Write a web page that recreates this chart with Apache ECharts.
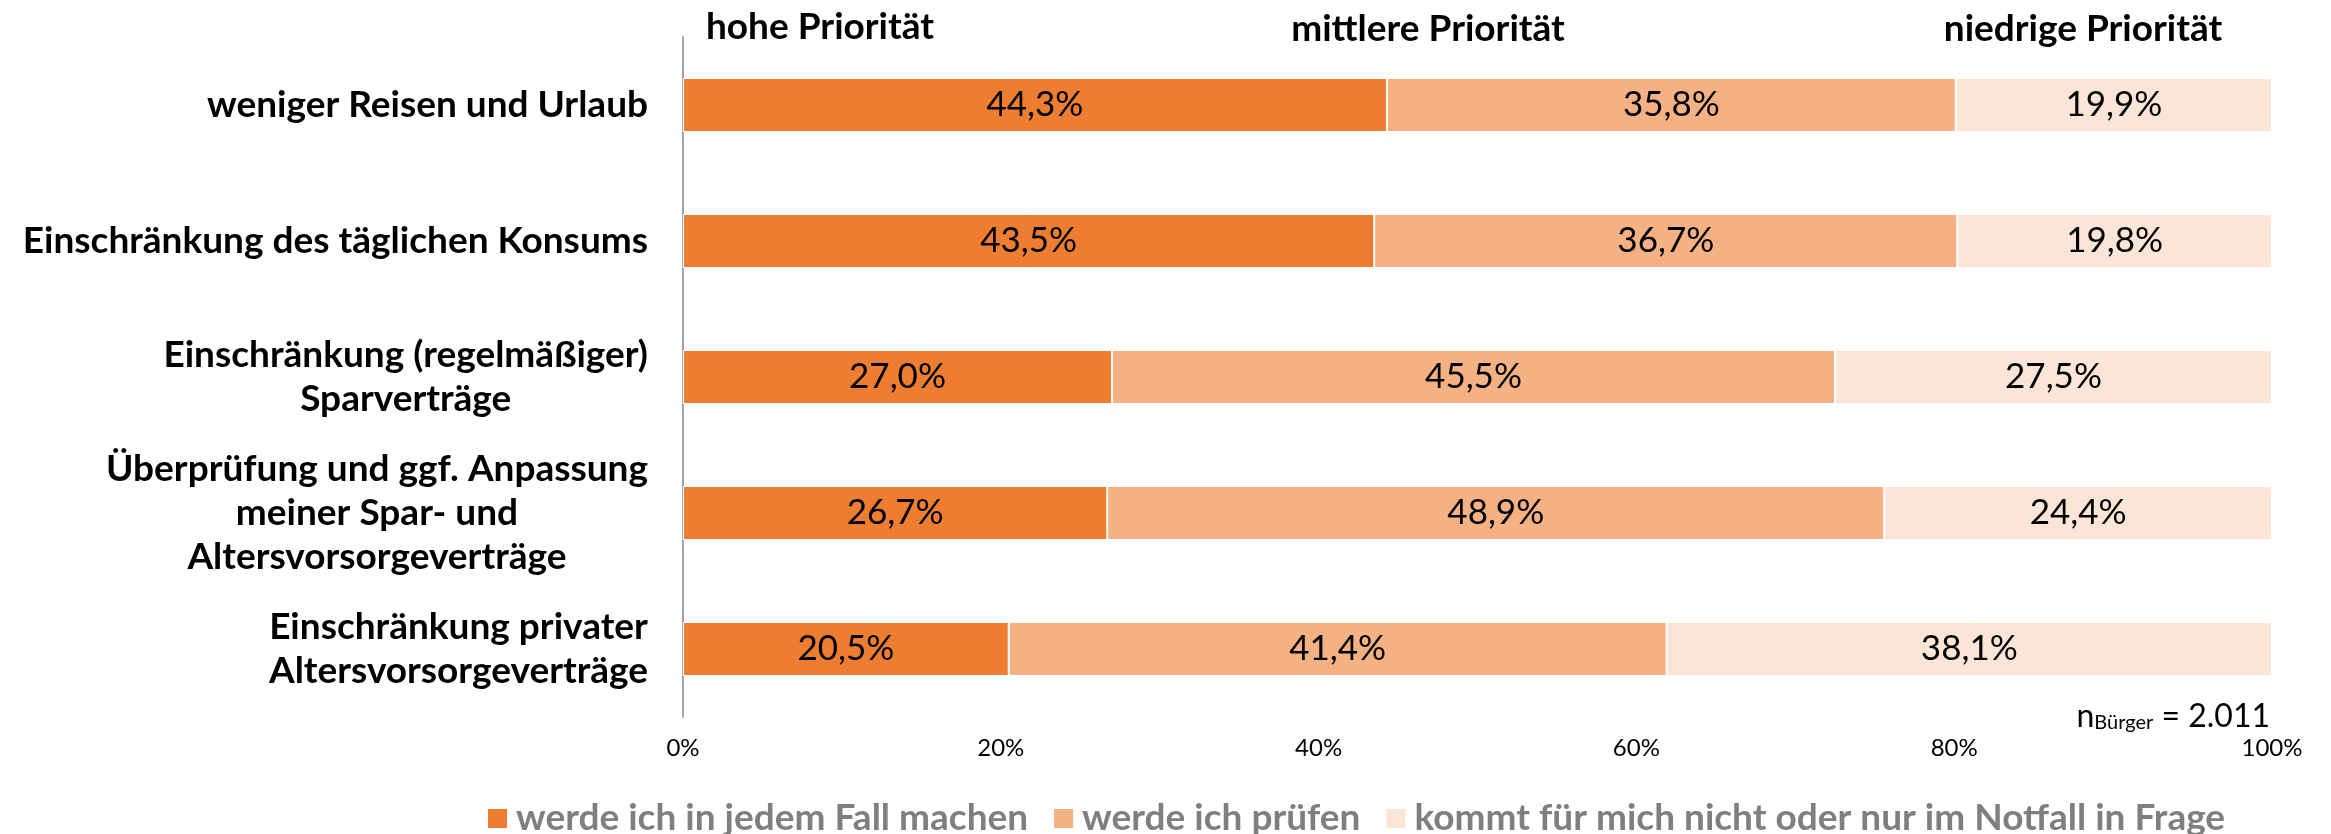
<!DOCTYPE html>
<html>
<head>
<meta charset="utf-8">
<script src="https://cdn.jsdelivr.net/npm/echarts@6/dist/echarts.min.js"></script>
<style>
html,body{margin:0;padding:0;background:#fff;}
#chart{width:2331px;height:834px;}
</style>
</head>
<body>
<div id="chart"></div>
<script>
const categories = [
  "weniger Reisen und Urlaub",
  "Einschränkung des täglichen Konsums",
  "Einschränkung (regelmäßiger)\nSparverträge",
  "Überprüfung und ggf. Anpassung\nmeiner Spar- und\nAltersvorsorgeverträge",
  "Einschränkung privater\nAltersvorsorgeverträge"
];
const seriesNames = [
  "werde ich in jedem Fall machen",
  "werde ich prüfen",
  "kommt für mich nicht oder nur im Notfall in Frage"
];
const hoch    = [44.3, 43.5, 27.0, 26.7, 20.5];
const mittel  = [35.8, 36.7, 45.5, 48.9, 41.4];
const niedrig = [19.9, 19.8, 27.5, 24.4, 38.1];
const colors = ["#ED7D31", "#F4B183", "#FBE5D6"];
const headers = ["hohe Priorität", "mittlere Priorität", "niedrige Priorität"];
const noteN = "2.011";

const FONT = "Lato";
const chart = echarts.init(document.getElementById('chart'), null, {renderer: 'canvas'});

function mkSeries(name, data, color) {
  return {
    name: name,
    type: 'bar',
    stack: 'total',
    barWidth: 54,
    data: data,
    itemStyle: {color: color, borderColor: '#ffffff', borderWidth: 1},
    label: {
      show: true,
      position: 'inside',
      color: '#000',
      fontFamily: FONT,
      fontSize: 35,
      formatter: p => p.value.toFixed(1).replace('.', ',') + '%'
    },
    emphasis: {disabled: true}
  };
}

chart.setOption({
  animation: false,
  backgroundColor: '#fff',
  grid: {left: 683, right: 59, top: 37, bottom: 117, containLabel: false},
  xAxis: {
    type: 'value', min: 0, max: 100, interval: 20,
    axisLine: {show: false}, axisTick: {show: false}, splitLine: {show: false},
    axisLabel: {formatter: '{value}%', color: '#000', fontFamily: FONT, fontSize: 24, margin: 19}
  },
  yAxis: {
    type: 'category', inverse: true, data: categories,
    axisLine: {show: true, lineStyle: {color: '#A6A6A6', width: 2}},
    axisTick: {show: false},
    axisLabel: {
      margin: 35,
      formatter: v => v.split('\n').map(l => '{c|' + l + '}').join('\n'),
      rich: {
        c: {align: 'center', fontFamily: FONT, fontWeight: 'bold', fontSize: 37, lineHeight: 44, color: '#000'}
      }
    }
  },
  legend: {
    data: seriesNames,
    left: 481, top: 795,
    icon: 'rect', itemWidth: 21, itemHeight: 21, itemGap: 24,
    textStyle: {color: '#7F7F7F', fontFamily: FONT, fontWeight: 'bold', fontSize: 37, padding: [0, 0, 0, 3]},
    selectedMode: false
  },
  graphic: [
    {type: 'text', left: 706, top: 9, style: {text: headers[0], fontFamily: FONT, fontWeight: 'bold', fontSize: 37, fill: '#000'}},
    {type: 'text', x: 1428, y: 29, style: {text: headers[1], fontFamily: FONT, fontWeight: 'bold', fontSize: 37, fill: '#000', align: 'center', verticalAlign: 'middle'}},
    {type: 'text', x: 2083, y: 29, style: {text: headers[2], fontFamily: FONT, fontWeight: 'bold', fontSize: 37, fill: '#000', align: 'center', verticalAlign: 'middle'}},
    {type: 'text', x: 2270, y: 716, style: {
      text: '{n|n}{s|Bürger}{n| = ' + noteN + '}',
      align: 'right', verticalAlign: 'middle',
      rich: {
        n: {fontFamily: FONT, fontSize: 32, fill: '#000', verticalAlign: 'bottom'},
        s: {fontFamily: FONT, fontSize: 20, fill: '#000', padding: [14, 0, 0, 0]}
      }
    }}
  ],
  series: [
    mkSeries(seriesNames[0], hoch, colors[0]),
    mkSeries(seriesNames[1], mittel, colors[1]),
    mkSeries(seriesNames[2], niedrig, colors[2])
  ]
});
</script>
</body>
</html>
